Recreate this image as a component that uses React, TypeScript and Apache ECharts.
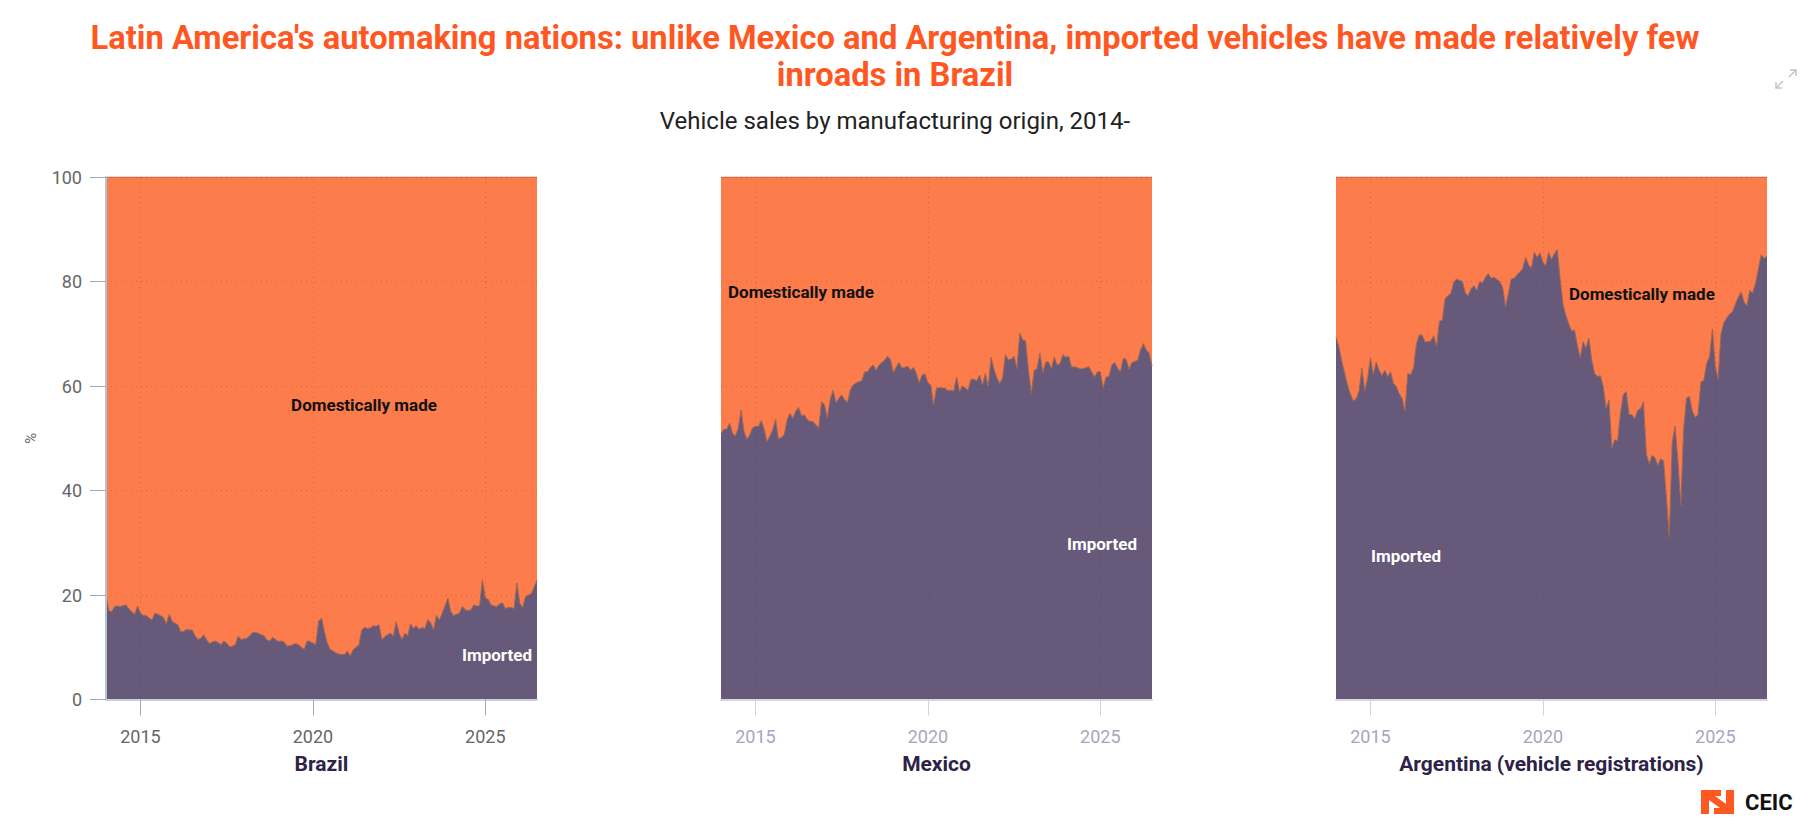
import React, { useEffect, useRef } from "react";
import * as echarts from "echarts";

// ---------------- DATA ----------------
const TITLE_LINE_1 =
  "Latin America's automaking nations: unlike Mexico and Argentina, imported vehicles have made relatively few";
const TITLE_LINE_2 = "inroads in Brazil";
const SUBTITLE = "Vehicle sales by manufacturing origin, 2014-";

const PANEL_NAMES = ["Brazil", "Mexico", "Argentina (vehicle registrations)"];
const SERIES_NAMES = ["Imported", "Domestically made"];
const START_YEAR = 2014;
const YEAR_TICKS = [2015, 2020, 2025];

// Share of imported vehicles (%), monthly from Jan 2014
const brazilImported = [
  20.0, 17.0, 16.8, 17.8, 17.9, 17.8, 18.0, 18.1, 17.3, 16.8,
  16.3, 17.9, 16.5, 16.1, 16.1, 15.6, 15.2, 16.5, 16.3, 16.1,
  15.7, 14.5, 16.3, 15.0, 14.6, 14.3, 13.0, 13.0, 13.4, 13.3,
  13.3, 12.2, 11.5, 11.7, 12.4, 11.4, 10.7, 11.0, 11.2, 10.9,
  10.5, 11.2, 10.8, 10.1, 10.2, 10.5, 12.1, 11.5, 11.6, 11.7,
  12.2, 12.8, 12.8, 12.7, 12.4, 12.2, 11.4, 11.2, 11.9, 11.5,
  11.1, 11.2, 11.0, 10.2, 10.3, 10.5, 10.7, 10.5, 10.0, 9.6,
  11.2, 11.1, 10.8, 10.5, 15.0, 15.6, 13.0, 10.8, 9.6, 9.3,
  8.9, 8.7, 8.6, 8.6, 9.3, 8.3, 9.5, 10.0, 10.4, 13.3,
  13.8, 13.6, 13.7, 14.1, 14.0, 14.3, 11.5, 12.0, 12.4, 12.7,
  12.1, 14.9, 12.7, 11.5, 12.7, 12.2, 14.5, 13.6, 14.1, 13.4,
  13.8, 13.6, 15.3, 14.7, 13.3, 16.1, 15.2, 16.5, 17.9, 19.4,
  16.8, 16.1, 16.3, 16.5, 17.8, 17.2, 17.0, 17.2, 18.1, 17.9,
  17.9, 22.9, 19.4, 19.2, 18.1, 17.9, 17.8, 18.3, 18.5, 17.4,
  17.6, 17.6, 17.4, 22.3, 18.4, 17.6, 19.7, 20.0, 20.2, 21.5,
  22.8,
];

const mexicoImported = [
  50.9, 51.7, 51.7, 52.9, 51.0, 50.4, 51.9, 55.4, 51.3, 49.8,
  50.6, 52.0, 52.3, 52.2, 53.4, 51.8, 49.3, 50.4, 51.6, 53.6,
  49.8, 50.2, 50.6, 53.5, 54.8, 53.8, 55.2, 55.9, 54.3, 54.5,
  53.6, 53.2, 53.2, 52.6, 51.9, 57.0, 56.4, 53.8, 57.4, 59.2,
  56.8, 57.6, 58.3, 57.4, 56.8, 59.2, 60.2, 60.6, 60.8, 61.0,
  62.7, 62.7, 63.6, 64.0, 63.0, 64.0, 64.5, 65.0, 65.7, 65.0,
  62.5, 63.7, 64.5, 63.4, 63.6, 63.8, 63.0, 63.6, 62.4, 60.6,
  62.1, 62.3, 60.6, 60.2, 56.3, 59.6, 59.7, 59.6, 59.6, 59.1,
  59.2, 59.0, 61.7, 58.9, 60.0, 59.6, 59.2, 61.3, 61.3, 61.0,
  62.1, 60.2, 62.4, 59.9, 65.5, 63.2, 61.6, 60.5, 61.5, 66.0,
  65.0, 65.1, 65.7, 63.3, 70.1, 68.8, 68.7, 63.0, 58.6, 63.0,
  63.3, 66.3, 62.5, 64.6, 64.6, 63.3, 65.5, 64.0, 64.3, 66.0,
  65.5, 65.7, 63.6, 63.7, 63.5, 63.3, 63.3, 63.5, 63.7, 62.7,
  61.7, 62.7, 62.7, 59.6, 61.7, 61.8, 64.0, 64.5, 63.5, 62.7,
  65.3, 65.1, 63.2, 64.5, 64.7, 64.9, 66.9, 68.1, 66.9, 66.3,
  63.8,
];

const argentinaImported = [
  69.4, 67.5, 64.8, 62.5, 60.2, 58.5, 57.2, 57.5, 59.0, 63.4,
  59.0, 61.5, 65.3, 62.1, 64.6, 63.0, 62.0, 63.0, 61.8, 62.7,
  60.5, 59.9, 58.5, 57.7, 55.2, 62.4, 62.1, 63.5, 68.1, 69.8,
  69.7, 68.4, 68.5, 68.6, 69.6, 67.5, 72.4, 72.6, 76.8, 77.3,
  77.7, 79.9, 80.5, 80.2, 80.0, 77.8, 77.3, 78.6, 79.2, 78.3,
  80.0, 79.7, 80.8, 81.5, 80.6, 80.8, 80.4, 80.0, 78.9, 75.1,
  77.7, 80.5, 80.6, 81.3, 81.8, 82.5, 84.6, 83.2, 82.5, 85.6,
  84.6, 85.5, 83.7, 83.0, 85.6, 84.2, 85.3, 86.1, 80.5, 75.7,
  73.5, 71.9, 70.5, 70.7, 67.8, 65.3, 68.5, 67.2, 69.2, 65.0,
  62.4, 61.8, 62.0, 59.9, 55.7, 57.3, 48.1, 49.7, 49.5, 54.8,
  58.4, 58.9, 54.5, 54.5, 53.7, 55.4, 55.6, 57.0, 47.0, 45.1,
  46.7, 46.3, 44.8, 46.1, 45.7, 38.6, 31.0, 49.1, 52.3, 45.6,
  37.2, 51.9, 57.7, 58.0, 55.2, 54.0, 54.5, 60.8, 61.0, 64.3,
  65.6, 70.9, 63.7, 61.3, 70.0, 72.1, 73.0, 73.8, 74.2, 75.7,
  77.0, 78.0, 76.1, 75.3, 78.3, 77.8, 79.6, 82.4, 85.1, 84.4,
  84.9,
];

const IMPORTED_BY_PANEL = [brazilImported, mexicoImported, argentinaImported];

// month categories "YYYY-MM"
const months: string[] = brazilImported.map(
  (_, i) => `${START_YEAR + Math.floor(i / 12)}-${String((i % 12) + 1).padStart(2, "0")}`
);

// ---------------- STYLE ----------------
const FONT = 'Roboto, "Noto Sans", sans-serif';
const ORANGE = "#FC7C4C";
const PURPLE = "#67597A";
const GRID_LEFTS = [106, 721, 1336];
const GRID_TOP = 177;
const GRID_W = 431;
const GRID_H = 522.5;
const GRID_LINE = { type: [1, 4], color: "rgba(45,35,70,0.22)", width: 1 };

const isYearTick = (_idx: number, v: string) => {
  const [y, m] = v.split("-");
  return m === "01" && YEAR_TICKS.includes(Number(y));
};

export default function App() {
  const ref = useRef<HTMLDivElement>(null);

  useEffect(() => {
    if (!ref.current) return;
    const chart = echarts.init(ref.current, undefined, { renderer: "svg" });

    const grids = GRID_LEFTS.map((l) => ({ left: l, top: GRID_TOP, width: GRID_W, height: GRID_H }));

    const xAxes = PANEL_NAMES.map((name, i) => ({
      type: "category",
      gridIndex: i,
      data: months,
      boundaryGap: false,
      z: 5,
      axisLine: { show: true, lineStyle: { color: i === 0 ? "#c5d0db" : "#d9d6e4", width: 2 } },
      axisTick: {
        show: true,
        interval: isYearTick,
        length: 16,
        lineStyle: { color: i === 0 ? "#9aabbb" : "#d4d0e0", width: 1 },
      },
      axisLabel: {
        interval: isYearTick,
        formatter: (v: string) => v.slice(0, 4),
        color: i === 0 ? "#666666" : "#aaa5bb",
        fontSize: 18,
        fontFamily: FONT,
        margin: 28,
      },
      splitLine: { show: true, interval: isYearTick, lineStyle: GRID_LINE },
      name,
      nameLocation: "middle",
      nameGap: 64,
      nameTextStyle: {
        fontSize: 21,
        fontWeight: "bold",
        color: "#2e2249",
        fontFamily: FONT,
        verticalAlign: "middle",
      },
    }));

    const yAxes = PANEL_NAMES.map((_, i) => ({
      type: "value",
      gridIndex: i,
      min: 0,
      max: 100,
      interval: 20,
      z: 5,
      axisLine: { show: i === 0, lineStyle: { color: "#b3c2d1", width: 2 } },
      axisTick: { show: i === 0, length: 16, lineStyle: { color: "#9aabbb" } },
      axisLabel: {
        show: i === 0,
        color: "#666666",
        fontSize: 18,
        fontFamily: FONT,
        margin: 24,
      },
      splitLine: { show: true, lineStyle: GRID_LINE },
      name: i === 0 ? "%" : "",
      nameLocation: "middle",
      nameGap: 68,
      nameRotate: 90,
      nameTextStyle: { fontSize: 15, color: "#666666", fontFamily: FONT },
    }));

    const series: any[] = [];
    IMPORTED_BY_PANEL.forEach((imp, i) => {
      series.push({
        name: SERIES_NAMES[0],
        type: "line",
        xAxisIndex: i,
        yAxisIndex: i,
        stack: "panel" + i,
        data: imp,
        symbol: "none",
        z: 3,
        lineStyle: { width: 1, color: "#9a6552" },
        itemStyle: { color: PURPLE },
        areaStyle: { color: PURPLE, opacity: 1 },
      });
      series.push({
        name: SERIES_NAMES[1],
        type: "line",
        xAxisIndex: i,
        yAxisIndex: i,
        stack: "panel" + i,
        data: imp.map((v) => Math.round((100 - v) * 10) / 10),
        symbol: "none",
        z: 2,
        lineStyle: { width: 1, color: "#c8623c" },
        itemStyle: { color: ORANGE },
        areaStyle: { color: ORANGE, opacity: 1 },
      });
    });

    const labelFont = `bold 17px ${FONT}`;
    const seriesLabel = (text: string, x: number, y: number, align: string, dark: boolean) => ({
      type: "text",
      x,
      y,
      z: 10,
      style: {
        text,
        font: labelFont,
        fill: dark ? "#111111" : "#ffffff",
        align,
        verticalAlign: "middle",
      },
    });

    const LOGO = "#FF5722";
    const graphic: any[] = [
      {
        type: "text",
        x: 895,
        y: 38,
        style: {
          text: TITLE_LINE_1,
          font: `bold 32.7px ${FONT}`,
          fill: "#FF5722",
          align: "center",
          verticalAlign: "middle",
        },
      },
      {
        type: "text",
        x: 895,
        y: 75,
        style: {
          text: TITLE_LINE_2,
          font: `bold 32.7px ${FONT}`,
          fill: "#FF5722",
          align: "center",
          verticalAlign: "middle",
        },
      },
      {
        type: "text",
        x: 895,
        y: 120.5,
        style: {
          text: SUBTITLE,
          font: `24px ${FONT}`,
          fill: "#222222",
          align: "center",
          verticalAlign: "middle",
        },
      },
      seriesLabel(SERIES_NAMES[1], 364, 405, "center", true),
      seriesLabel(SERIES_NAMES[0], 532, 655, "right", false),
      seriesLabel(SERIES_NAMES[1], 728, 292, "left", true),
      seriesLabel(SERIES_NAMES[0], 1137, 544, "right", false),
      seriesLabel(SERIES_NAMES[1], 1569, 294, "left", true),
      seriesLabel(SERIES_NAMES[0], 1371, 556, "left", false),
      // CEIC logo
      {
        type: "group",
        x: 1701,
        y: 790,
        children: [
          { type: "rect", shape: { x: 0, y: 0, width: 8, height: 24 }, style: { fill: LOGO } },
          { type: "rect", shape: { x: 25, y: 0, width: 8, height: 24 }, style: { fill: LOGO } },
          { type: "rect", shape: { x: 8, y: 0, width: 12, height: 6 }, style: { fill: LOGO } },
          { type: "rect", shape: { x: 13, y: 18, width: 12, height: 6 }, style: { fill: LOGO } },
          {
            type: "polygon",
            shape: { points: [[8, 6], [14, 6], [25, 14], [25, 18], [19, 18], [8, 10]] },
            style: { fill: LOGO },
          },
          {
            type: "text",
            x: 44,
            y: 12.5,
            style: {
              text: "CEIC",
              font: `bold 22px ${FONT}`,
              fill: "#111111",
              align: "left",
              verticalAlign: "middle",
            },
          },
        ],
      },
      // expand icon
      {
        type: "group",
        x: 0,
        y: 0,
        children: [
          { type: "polyline", shape: { points: [[1790, 70], [1796, 70], [1796, 76]] }, style: { stroke: "#c4c4c4", lineWidth: 1.5, fill: null } },
          { type: "line", shape: { x1: 1796, y1: 70, x2: 1789, y2: 77 }, style: { stroke: "#c4c4c4", lineWidth: 1.5 } },
          { type: "polyline", shape: { points: [[1776, 82], [1776, 88], [1782, 88]] }, style: { stroke: "#c4c4c4", lineWidth: 1.5, fill: null } },
          { type: "line", shape: { x1: 1776, y1: 88, x2: 1783, y2: 81 }, style: { stroke: "#c4c4c4", lineWidth: 1.5 } },
        ],
      },
    ];

    chart.setOption({
      animation: false,
      backgroundColor: "#ffffff",
      textStyle: { fontFamily: FONT },
      grid: grids,
      xAxis: xAxes,
      yAxis: yAxes,
      series,
      graphic,
    } as any);

    return () => chart.dispose();
  }, []);

  return (
    <div
      ref={ref}
      style={{ position: "fixed", left: 0, top: 0, width: 1812, height: 830, background: "#fff" }}
    />
  );
}
